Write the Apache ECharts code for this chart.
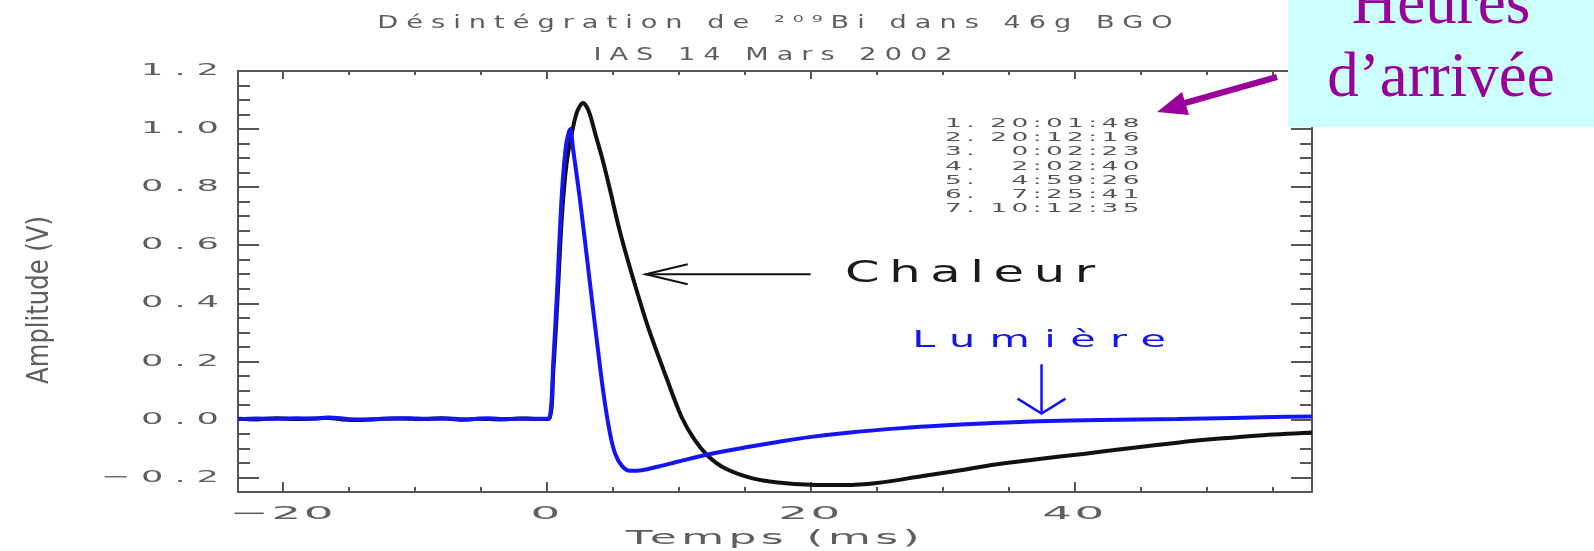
<!DOCTYPE html>
<html>
<head>
<meta charset="utf-8">
<script src="https://cdn.jsdelivr.net/npm/echarts@6/dist/echarts.min.js"></script>
<style>
  html, body { margin: 0; background: #fff; }
  #graphique { width: 1594px; height: 551px; }
</style>
</head>
<body>
<div id="graphique"></div>
<script>
// Le tracé IDL utilise une police vectorielle très large : une famille factice "wNN"
// étire les glyphes (NN/10) et "lsN" ajoute un espacement entre lettres.
const proto = CanvasRenderingContext2D.prototype;
const fillTextOrig = proto.fillText;
const measureTextOrig = proto.measureText;

function reglageTexte(ctx) {
  const w = /\bw(\d+)\b/.exec(ctx.font);
  const ls = /\bls(\d+)\b/.exec(ctx.font);
  ctx.letterSpacing = ls ? ls[1] + "px" : "0px";
  return w ? w[1] / 10 : 1;
}

proto.fillText = function (texte, x, y, maxW) {
  const k = reglageTexte(this);
  if (k === 1) {
    return maxW === undefined
      ? fillTextOrig.call(this, texte, x, y)
      : fillTextOrig.call(this, texte, x, y, maxW);
  }
  this.save();
  this.translate(x, y);
  this.scale(k, 1);
  fillTextOrig.call(this, texte, 0, 0);
  this.restore();
};

proto.measureText = function (texte) {
  const k = reglageTexte(this);
  const m = measureTextOrig.call(this, texte);
  if (k === 1) return m;
  return {
    width: m.width * k,
    actualBoundingBoxLeft: m.actualBoundingBoxLeft * k,
    actualBoundingBoxRight: m.actualBoundingBoxRight * k,
    actualBoundingBoxAscent: m.actualBoundingBoxAscent,
    actualBoundingBoxDescent: m.actualBoundingBoxDescent,
    fontBoundingBoxAscent: m.fontBoundingBoxAscent,
    fontBoundingBoxDescent: m.fontBoundingBoxDescent,
  };
};

const police = (k, ls) => `DejaVu Sans, w${k}, ls${ls}`;

// ---- données ----
const tempsChaleur = [-23.4, -22, -20.5, -19, -17.5, -16.8, -15.5, -14, -12.5, -11, -9.5, -8, -6.5, -5, -3.5, -2, -0.8,
  0.15, 0.5, 0.8, 1.15, 1.5, 1.9, 2.3, 2.75, 3.2, 3.7, 4.2, 4.8, 5.5, 6.45, 7.7, 9.1, 10.2, 11.2, 12.2, 13.5, 15.6,
  17.5, 20, 22.5, 25, 28.5, 31, 34, 37, 40.8, 44, 47.8, 51, 54, 58];
const ampChaleur = [0.002, 0.0, 0.004, 0.001, 0.003, 0.006, 0.0, -0.002, 0.002, 0.003, 0.001, 0.004, -0.001, 0.002, 0.0, 0.003, 0.001,
  0.002, 0.17, 0.40, 0.70, 0.88, 0.985, 1.06, 1.09, 1.06, 0.98, 0.90, 0.79, 0.655, 0.50, 0.315, 0.14, 0.01, -0.07, -0.125, -0.168, -0.203,
  -0.217, -0.225, -0.226, -0.219, -0.195, -0.178, -0.155, -0.138, -0.118, -0.1, -0.08, -0.066, -0.055, -0.045];

const tempsLumiere = [-23.4, -22, -20.5, -19, -17.5, -16.5, -15, -13.5, -12, -10.5, -9, -7.5, -6, -4.5, -3, -1.5, -0.3,
  0.2, 0.5, 0.77, 1.15, 1.48, 1.78, 2.0, 2.48, 2.79, 3.3, 3.8, 4.3, 4.8, 5.2, 5.7, 6.3, 7.2, 8.5, 10, 12.3, 15, 17.5,
  19.9, 23, 26.9, 30, 33.5, 37.3, 42, 47.8, 52, 55, 58];
const ampLumiere = [0.001, 0.003, 0.002, 0.004, 0.003, 0.007, 0.001, 0.0, 0.003, 0.004, 0.002, 0.003, 0.0, 0.004, 0.001, 0.003, 0.002,
  0.005, 0.2, 0.43, 0.78, 0.95, 1.0, 0.93, 0.77, 0.655, 0.46, 0.27, 0.09, -0.05, -0.12, -0.16, -0.177, -0.175, -0.162, -0.145, -0.12,
  -0.097, -0.078, -0.061, -0.045, -0.03, -0.021, -0.013, -0.006, -0.002, 0.001, 0.005, 0.008, 0.01];

const ticksX = [-20, 0, 20, 40];
const ticksXMineurs = [-15, -10, -5, 5, 10, 15, 25, 30, 35, 45, 50, 55];
const ticksY = [-0.2, 0, 0.2, 0.4, 0.6, 0.8, 1.0, 1.2];
const ticksYMineurs = [-0.15, -0.1, -0.05, 0.05, 0.1, 0.15, 0.25, 0.3, 0.35, 0.45, 0.5, 0.55, 0.65, 0.7, 0.75,
  0.85, 0.9, 0.95, 1.05, 1.1, 1.15];

const numeros = ["1.", "2.", "3.", "4.", "5.", "6.", "7."];
const heuresArrivee = ["20:01:48", "20:12:16", "0:02:23", "2:02:40", "4:59:26", "7:25:41", "10:12:35"];

// flèches d'annotation, en coordonnées des données
const flecheChaleur = [[20, 0.5], [7.5, 0.5]];
const flecheLumiere = [[37.5, 0.19], [37.5, 0.02]];
const posChaleur = [22.6, 0.5];
const posLumiere = [27.7, 0.27];

const X_MIN = -23.4, X_MAX = 58;
const Y_MIN = -0.25, Y_MAX = 1.2;
const GRIS = "#555";
const GRIS_TEXTE = "#5e5e5e";

const signe = (s) => s.replace("-", "\u2212");

function axeX(position, ticks, longueur, ligne, etiquettes) {
  return {
    type: "value",
    position,
    min: X_MIN,
    max: X_MAX,
    axisLine: { show: ligne, onZero: false, lineStyle: { color: GRIS, width: 2 } },
    axisTick: { show: true, inside: true, length: longueur, customValues: ticks, lineStyle: { color: GRIS, width: 2 } },
    axisLabel: etiquettes || { show: false },
    splitLine: { show: false },
  };
}

function axeY(position, ticks, longueur, ligne, etiquettes) {
  return {
    type: "value",
    position,
    min: Y_MIN,
    max: Y_MAX,
    axisLine: { show: ligne, onZero: false, lineStyle: { color: GRIS, width: 2 } },
    axisTick: { show: true, inside: true, length: longueur, customValues: ticks, lineStyle: { color: GRIS, width: 2 } },
    axisLabel: etiquettes || { show: false },
    splitLine: { show: false },
  };
}

const graphique = echarts.init(document.getElementById("graphique"));

const styleTitre = { color: GRIS_TEXTE, fontSize: 17, fontWeight: "normal", fontFamily: police(16, 5) };

graphique.setOption({
  animation: false,
  backgroundColor: "#fff",
  title: [
    { text: "Désintégration de ²⁰⁹Bi dans 46g BGO", left: 779, top: 6, padding: 0, textAlign: "center", textStyle: styleTitre },
    { text: "IAS 14 Mars 2002", left: 777, top: 38, padding: 0, textAlign: "center", textStyle: styleTitre },
  ],
  grid: { left: 238, top: 71, width: 1074, height: 421, outerBoundsMode: "none", containLabel: false },
  xAxis: [
    axeX("bottom", ticksX, 10, true, {
      customValues: ticksX,
      formatter: (v) => signe(String(v)),
      color: GRIS_TEXTE,
      fontSize: 18,
      fontFamily: police(26, 1),
      margin: -2,
    }),
    axeX("bottom", ticksXMineurs, 5, false),
    axeX("top", ticksX, 8, true),
    axeX("top", ticksXMineurs, 4, false),
  ],
  yAxis: [
    axeY("left", ticksY, 21, true, {
      customValues: ticksY,
      formatter: (v) => signe(v.toFixed(1)),
      color: GRIS_TEXTE,
      fontSize: 16,
      fontFamily: police(22, 5),
      margin: 8,
    }),
    axeY("left", ticksYMineurs, 12, false),
    axeY("right", ticksY, 21, true),
    axeY("right", ticksYMineurs, 12, false),
  ],
  series: [
    {
      name: "Chaleur",
      type: "line",
      data: tempsChaleur.map((t, i) => [t, ampChaleur[i]]),
      showSymbol: false,
      smooth: 0.3,
      lineStyle: { color: "#111", width: 4 },
      z: 2,
    },
    {
      name: "Lumière",
      type: "line",
      data: tempsLumiere.map((t, i) => [t, ampLumiere[i]]),
      showSymbol: false,
      smooth: 0.3,
      lineStyle: { color: "#1414f5", width: 4 },
      z: 3,
    },
  ],
});

const px = (v) => graphique.convertToPixel({ xAxisIndex: 0, yAxisIndex: 0 }, v);

const [cDebut, cFin] = flecheChaleur.map(px);
const [lDebut, lFin] = flecheLumiere.map(px);
const pChaleur = px(posChaleur);
const pLumiere = px(posLumiere);
const BLEU = "#1414f5";
const VIOLET = "#990099";

graphique.setOption({
  graphic: [
    {
      type: "text",
      x: 40,
      y: 300,
      rotation: Math.PI / 2,
      style: { text: "Amplitude (V)", font: "30px DejaVu Sans Condensed, w9, ls0", fill: GRIS_TEXTE, align: "center", verticalAlign: "middle" },
    },
    {
      type: "text",
      x: 775,
      y: 539,
      style: { text: "Temps (ms)", font: "20px " + police(22, 2), fill: GRIS_TEXTE, align: "center", verticalAlign: "middle" },
    },
    // Chaleur
    {
      type: "polyline",
      shape: { points: [cDebut, cFin] },
      style: { stroke: "#111", lineWidth: 2, fill: null },
      z: 10,
    },
    {
      type: "polyline",
      shape: { points: [[cFin[0] + 42, cFin[1] - 10], cFin, [cFin[0] + 42, cFin[1] + 10]] },
      style: { stroke: "#111", lineWidth: 2, fill: null },
      z: 10,
    },
    {
      type: "text",
      x: pChaleur[0],
      y: pChaleur[1],
      style: { text: "Chaleur", font: "31px " + police(16, 6), fill: "#1a1a1a", align: "left", verticalAlign: "middle" },
      z: 10,
    },
    // Lumière
    {
      type: "polyline",
      shape: { points: [lDebut, lFin] },
      style: { stroke: BLEU, lineWidth: 2.5, fill: null },
      z: 10,
    },
    {
      type: "polyline",
      shape: { points: [[lFin[0] - 24, lFin[1] - 15], lFin, [lFin[0] + 24, lFin[1] - 15]] },
      style: { stroke: BLEU, lineWidth: 2.5, fill: null },
      z: 10,
    },
    {
      type: "text",
      x: pLumiere[0],
      y: pLumiere[1],
      style: { text: "Lumière", font: "23px " + police(18, 8), fill: BLEU, align: "left", verticalAlign: "middle" },
      z: 10,
    },
    // heures d'arrivée des événements
    {
      type: "text",
      x: 945,
      y: 166.5,
      style: { text: numeros.join("\n"), font: "12px " + police(22, 2), fill: "#555", lineHeight: 14.2, align: "left", verticalAlign: "middle" },
      z: 10,
    },
    {
      type: "text",
      x: 1144,
      y: 166.5,
      style: { text: heuresArrivee.join("\n"), font: "12px " + police(22, 2), fill: "#555", lineHeight: 14.2, align: "right", verticalAlign: "middle" },
      z: 10,
    },
    // encadré "Heures d'arrivée"
    {
      type: "rect",
      shape: { x: 1288, y: -10, width: 320, height: 137 },
      style: { fill: "#ccffff" },
      z: 100,
    },
    {
      type: "text",
      x: 1441,
      y: 6,
      style: { text: "Heures", font: "63px Liberation Serif", fill: VIOLET, align: "center", verticalAlign: "middle" },
      z: 101,
    },
    {
      type: "text",
      x: 1441,
      y: 79,
      style: { text: "d’arrivée", font: "63px Liberation Serif", fill: VIOLET, align: "center", verticalAlign: "middle" },
      z: 101,
    },
    {
      type: "polyline",
      shape: { points: [[1277, 77], [1185, 103]] },
      style: { stroke: VIOLET, lineWidth: 6, fill: null },
      z: 101,
    },
    {
      type: "polygon",
      shape: { points: [[1157, 112], [1189, 115], [1182, 92]] },
      style: { fill: VIOLET },
      z: 101,
    },
  ],
});
</script>
</body>
</html>
